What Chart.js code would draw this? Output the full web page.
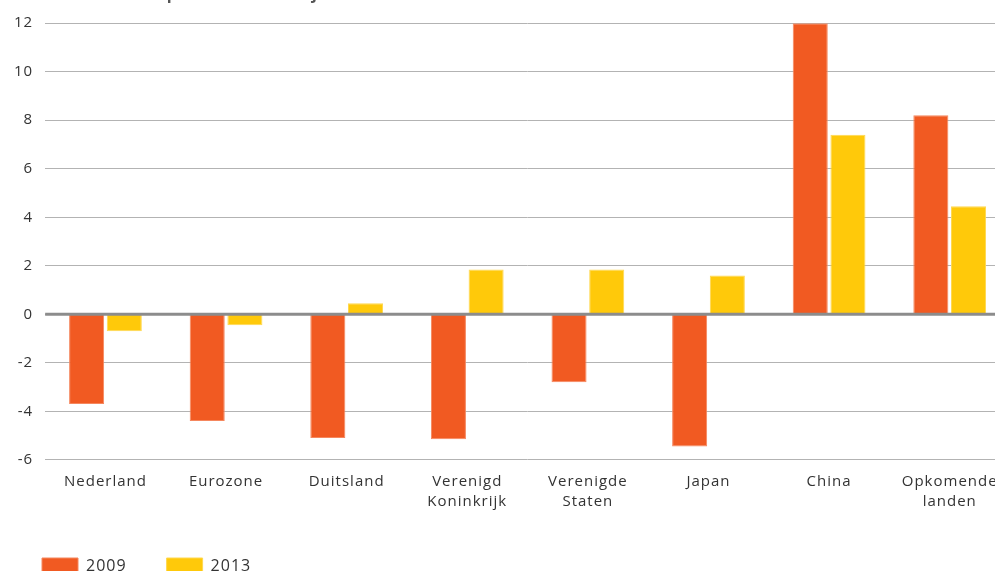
<!DOCTYPE html>
<html>
<head>
<meta charset="utf-8">
<script src="https://cdn.jsdelivr.net/npm/chart.js@4/dist/chart.umd.min.js"></script>
<style>
  html, body { margin: 0; padding: 0; background: #fff; overflow: hidden; width: 995px; height: 571px; }
  #wrap { position: absolute; left: 0; top: -20px; width: 1010px; height: 604px; }
</style>
</head>
<body>
<div id="wrap"><canvas id="c"></canvas></div>
<script>
const titleText = "Mutatie in % ten opzichte van een jaar eerder";
const categories = [
  "Nederland", "Eurozone", "Duitsland", ["Verenigd", "Koninkrijk"],
  ["Verenigde", "Staten"], "Japan", "China", ["Opkomende", "landen"]
];
const seriesNames = ["2009", "2013"];
const values2009 = [-3.7, -4.4, -5.1, -5.15, -2.8, -5.45, 12.0, 8.2];
const values2013 = [-0.7, -0.45, 0.45, 1.85, 1.85, 1.6, 7.4, 4.45];
const yMin = -6, yMax = 12, yStep = 2;

const FONT = "'Open Sans', 'DejaVu Sans', sans-serif";

const spacing = {
  id: 'spacing',
  beforeLayout(chart) { chart.ctx.letterSpacing = '1px'; },
  beforeDraw(chart) { chart.ctx.letterSpacing = '1px'; }
};

const zeroLine = {
  id: 'zeroLine',
  afterDatasetsDraw(chart) {
    const y = chart.scales.y.getPixelForValue(0);
    const { left, right } = chart.chartArea;
    const ctx = chart.ctx;
    ctx.save();
    ctx.strokeStyle = '#8c8c8c';
    ctx.lineWidth = 3;
    ctx.beginPath();
    ctx.moveTo(left, y);
    ctx.lineTo(right, y);
    ctx.stroke();
    ctx.restore();
  }
};

new Chart(document.getElementById('c'), {
  type: 'bar',
  data: {
    labels: categories,
    datasets: [
      { label: seriesNames[0], data: values2009, backgroundColor: '#F15A22', borderColor: '#F5875E', borderWidth: 1 },
      { label: seriesNames[1], data: values2013, backgroundColor: '#FFC90A', borderColor: '#FFD84F', borderWidth: 1 }
    ]
  },
  options: {
    responsive: true,
    maintainAspectRatio: false,
    animation: false,
    categoryPercentage: 0.625,
    barPercentage: 0.93,
    layout: { autoPadding: false, padding: { left: 2, right: 0, top: 0, bottom: 0 } },
    plugins: {
      title: {
        display: true, text: titleText, align: 'start',
        color: '#555', font: { family: FONT, size: 16 },
        padding: { top: 5, bottom: 19 }
      },
      legend: {
        position: 'bottom', align: 'start',
        labels: {
          boxWidth: 36, boxHeight: 16, padding: 40,
          color: '#333', font: { family: FONT, size: 16 }
        }
      },
      tooltip: { enabled: false }
    },
    scales: {
      x: {
        grid: { display: false, drawTicks: false },
        border: { display: false },
        afterFit(scale) { scale.height -= 6; },
        ticks: { color: '#333', font: { family: FONT, size: 15, lineHeight: 1.34 }, padding: 12, maxRotation: 0, autoSkip: false }
      },
      y: {
        min: yMin, max: yMax,
        grid: { color: '#b3b3b3', lineWidth: 1, drawTicks: false },
        border: { display: false },
        ticks: { stepSize: yStep, color: '#333', font: { family: FONT, size: 15 }, padding: 12 }
      }
    }
  },
  plugins: [spacing, zeroLine]
});
</script>
</body>
</html>
